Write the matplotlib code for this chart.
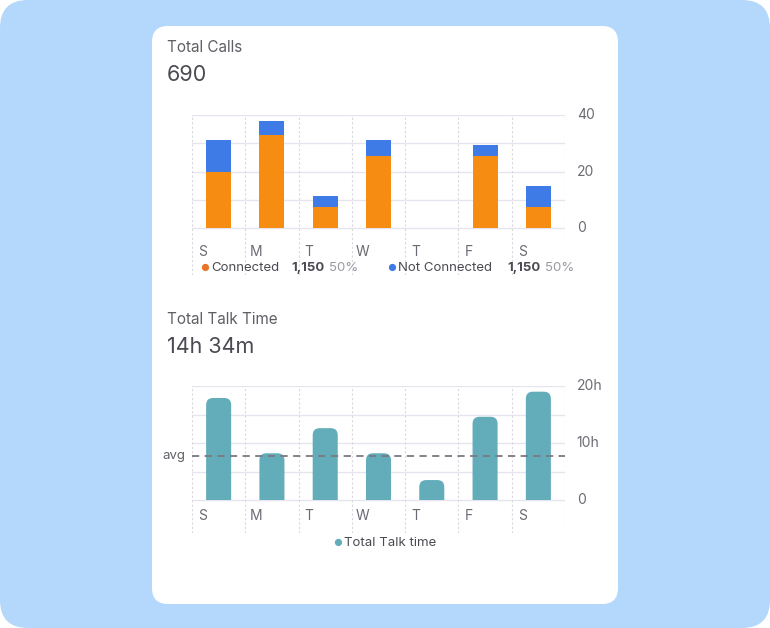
import matplotlib
matplotlib.use("Agg")
import matplotlib.pyplot as plt
from matplotlib.patches import FancyBboxPatch, Rectangle

plt.rcParams["font.family"] = "Inter"

days = ["S", "M", "T", "W", "T", "F", "S"]
connected = [20, 33, 7.5, 25.5, 0, 25.5, 7.5]
not_connected = [11, 5, 4, 5.5, 0, 4, 7.5]
talk_hours = [17.9, 8.2, 12.6, 8.2, 3.5, 14.6, 19]
avg_hours = 7.7
calls_ticks = [0, 20, 40]
talk_ticks = [0, 10, 20]
talk_tick_labels = ["0", "10h", "20h"]

W, H = 770, 628
fig = plt.figure(figsize=(7.7, 6.28), dpi=100)
fig.patch.set_facecolor("white")

def fx(x): return x / W
def fy(y): return 1 - y / H

# background
bg = fig.add_axes([0, 0, 1, 1]); bg.set_xlim(0, W); bg.set_ylim(H, 0); bg.axis("off")
bg.add_patch(FancyBboxPatch((0, 0), W, H, boxstyle="round,pad=0,rounding_size=28",
                            fc="#b4d8fb", ec="none"))
bg.add_patch(FancyBboxPatch((152, 26), 466, 578, boxstyle="round,pad=0,rounding_size=16",
                            fc="white", ec="none"))

gray = "#5f5f66"
fig.text(fx(167), fy(47), "Total Calls", fontsize=11, color=gray, va="center")
fig.text(fx(167), fy(75), "690", fontsize=15.5, color="#4a4a52", va="center")
fig.text(fx(167), fy(319), "Total Talk Time", fontsize=11, color=gray, va="center")
fig.text(fx(167), fy(347), "14h 34m", fontsize=15.5, color="#4a4a52", va="center")

def setup(ax, ymin, ymax, gridvals):
    ax.set_xlim(-0.5, 6.5); ax.set_ylim(ymin, ymax)
    for s in ax.spines.values(): s.set_visible(False)
    ax.set_xticks([]); ax.set_yticks([])
    ax.patch.set_alpha(0)
    for g in gridvals:
        ax.axhline(g, color="#e6e4ec", lw=1, zorder=0)
    for i in range(8):
        ax.axvline(i - 0.5, color="#d9d7e0", lw=0.8, ls=(0, (2, 2)), zorder=0)
    for i, d in enumerate(days):
        ax.text(i - 0.3, ymin + (0 - ymin) * 0.5, d, fontsize=10, color="#6b6b73",
                ha="center", va="center")

# Top chart
top_y0, top_y1, bot_px = 115, 228, 275
scale = 40 / (top_y1 - top_y0)
ymin = -(bot_px - top_y1) * scale
ax1 = fig.add_axes([fx(192), fy(bot_px), (565 - 192) / W, (bot_px - top_y0) / H])
setup(ax1, ymin, 40, [0, 10, 20, 30, 40])
x = list(range(7))
ax1.bar(x, connected, width=0.47, color="#f68c12", zorder=2)
ax1.bar(x, not_connected, bottom=connected, width=0.47, color="#3f7be6", zorder=2)
for t in calls_ticks:
    ax1.text(6.72, t, str(t), fontsize=10, color="#6b6b73", va="center", ha="left")

fig.text(fx(200), fy(268), "●", fontsize=7, color="#e8742a", va="center")
fig.text(fx(211), fy(268), "Connected", fontsize=9.5, color="#4a4a52", va="center")
fig.text(fx(291), fy(268), "1,150", fontsize=9.5, color="#4a4a52", va="center", weight="bold")
fig.text(fx(329), fy(268), "50%", fontsize=9.5, color="#9a9aa2", va="center")
fig.text(fx(387), fy(268), "●", fontsize=7, color="#3f7be6", va="center")
fig.text(fx(398), fy(268), "Not Connected", fontsize=9.5, color="#4a4a52", va="center")
fig.text(fx(507), fy(268), "1,150", fontsize=9.5, color="#4a4a52", va="center", weight="bold")
fig.text(fx(545), fy(268), "50%", fontsize=9.5, color="#9a9aa2", va="center")

# Bottom chart
b_y0, b_y1, b_bot = 386, 500, 533
bscale = 20 / (b_y1 - b_y0)
bymin = -(b_bot - b_y1) * bscale
ax2 = fig.add_axes([fx(192), fy(b_bot), (565 - 192) / W, (b_bot - b_y0) / H])
setup(ax2, bymin, 20, [0, 5, 10, 15, 20])
xpp = 7 / (565 - 192)
ypp = bscale
clip = Rectangle((-0.5, 0), 7, 25, transform=ax2.transData)
bars = ax2.bar(x, talk_hours, width=0.47, color="none")
for b in bars:
    p = FancyBboxPatch((b.get_x(), -2), b.get_width(), b.get_height() + 2,
                       boxstyle="round,pad=0,rounding_size=%f" % (7 * xpp),
                       mutation_aspect=ypp / xpp, fc="#62adb9", ec="none", zorder=2)
    ax2.add_patch(p)
    p.set_clip_path(clip)
ax2.axhline(avg_hours, color="#7a7a80", lw=1.3, ls=(0, (4, 3)), zorder=3)
ax2.text(-0.62, avg_hours, "avg", fontsize=9.5, color="#5f5f66", ha="right", va="center")
for t, l in zip(talk_ticks, talk_tick_labels):
    ax2.text(6.72, t, l, fontsize=10, color="#6b6b73", va="center", ha="left")

fig.text(fx(333), fy(543), "●", fontsize=7, color="#62adb9", va="center")
fig.text(fx(344), fy(543), "Total Talk time", fontsize=9.5, color="#4a4a52", va="center")

fig.savefig("out.png", dpi=100)
